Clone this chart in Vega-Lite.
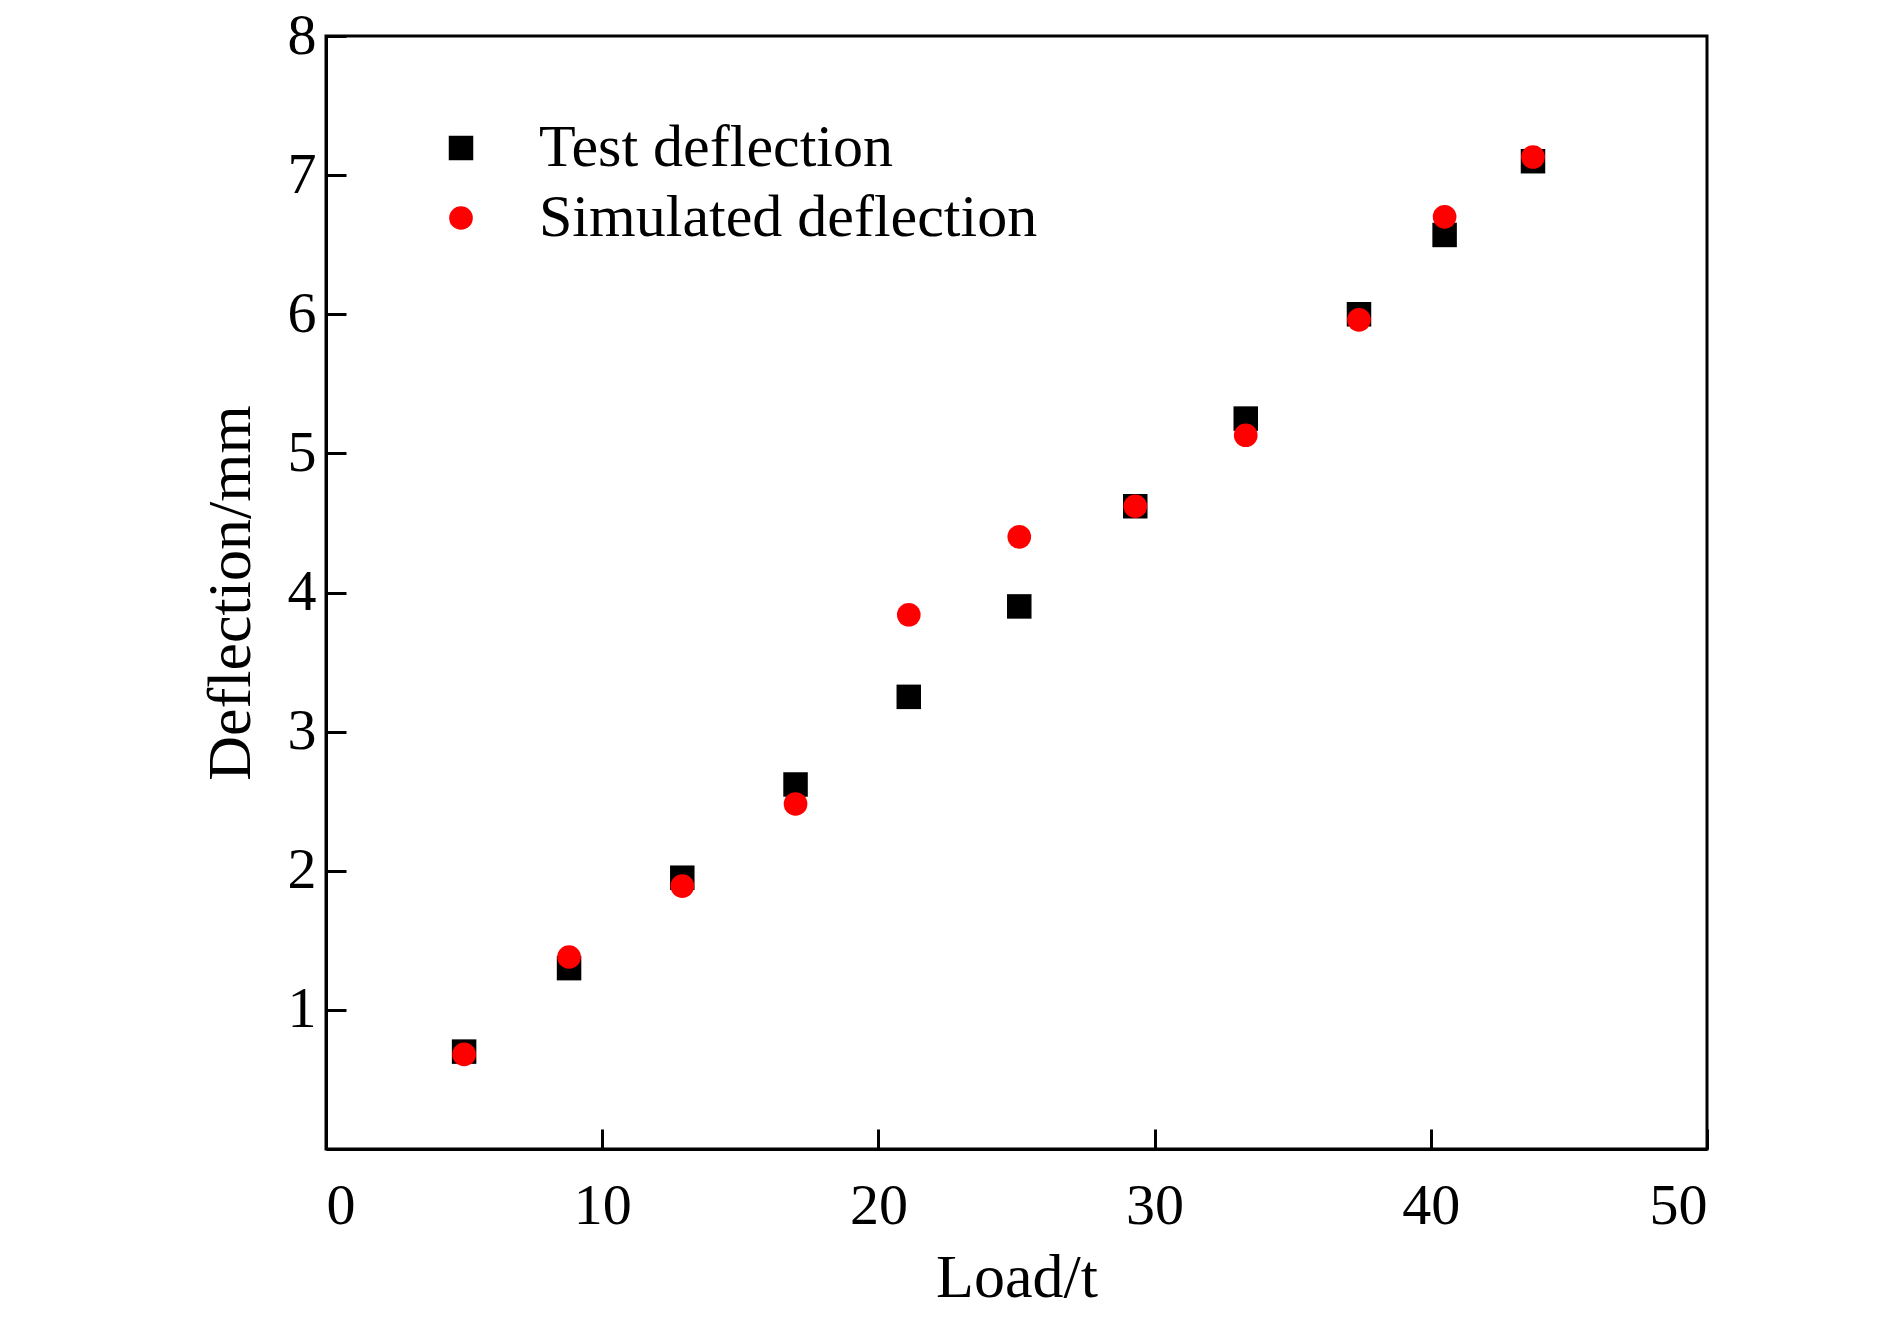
{
  "$schema": "https://vega.github.io/schema/vega-lite/v6.json",
  "width": 1381,
  "height": 1113,
  "padding": {"left": 326, "top": 36, "right": 183, "bottom": 190},
  "autosize": {"type": "none"},
  "background": "white",
  "data": {
    "values": [
      {"load": 5.0, "deflection": 0.70, "series": "Test deflection"},
      {"load": 8.8, "deflection": 1.30, "series": "Test deflection"},
      {"load": 12.9, "deflection": 1.95, "series": "Test deflection"},
      {"load": 17.0, "deflection": 2.62, "series": "Test deflection"},
      {"load": 21.1, "deflection": 3.25, "series": "Test deflection"},
      {"load": 25.1, "deflection": 3.90, "series": "Test deflection"},
      {"load": 29.3, "deflection": 4.62, "series": "Test deflection"},
      {"load": 33.3, "deflection": 5.25, "series": "Test deflection"},
      {"load": 37.4, "deflection": 6.00, "series": "Test deflection"},
      {"load": 40.5, "deflection": 6.57, "series": "Test deflection"},
      {"load": 43.7, "deflection": 7.10, "series": "Test deflection"},
      {"load": 5.0, "deflection": 0.68, "series": "Simulated deflection"},
      {"load": 8.8, "deflection": 1.38, "series": "Simulated deflection"},
      {"load": 12.9, "deflection": 1.89, "series": "Simulated deflection"},
      {"load": 17.0, "deflection": 2.48, "series": "Simulated deflection"},
      {"load": 21.1, "deflection": 3.84, "series": "Simulated deflection"},
      {"load": 25.1, "deflection": 4.40, "series": "Simulated deflection"},
      {"load": 29.3, "deflection": 4.62, "series": "Simulated deflection"},
      {"load": 33.3, "deflection": 5.13, "series": "Simulated deflection"},
      {"load": 37.4, "deflection": 5.96, "series": "Simulated deflection"},
      {"load": 40.5, "deflection": 6.70, "series": "Simulated deflection"},
      {"load": 43.7, "deflection": 7.13, "series": "Simulated deflection"}
    ]
  },
  "mark": {"type": "point", "filled": true, "opacity": 1},
  "encoding": {
    "x": {
      "field": "load", "type": "quantitative", "title": "Load/t",
      "scale": {"domain": [0, 50], "nice": false},
      "axis": {"values": [0, 10, 20, 30, 40, 50], "grid": false, "labelPadding": 48, "titlePadding": 12}
    },
    "y": {
      "field": "deflection", "type": "quantitative", "title": "Deflection/mm",
      "scale": {"domain": [0, 8], "nice": false},
      "axis": {"values": [1, 2, 3, 4, 5, 6, 7, 8], "grid": false, "labelPadding": 30, "titlePadding": 25}
    },
    "color": {
      "field": "series", "type": "nominal",
      "scale": {"domain": ["Test deflection", "Simulated deflection"], "range": ["black", "#ff0000"]},
      "legend": {"title": null, "orient": "none", "legendX": 105, "legendY": 82}
    },
    "shape": {
      "field": "series", "type": "nominal",
      "scale": {"domain": ["Test deflection", "Simulated deflection"], "range": ["square", "circle"]},
      "legend": {"title": null, "orient": "none", "legendX": 105, "legendY": 82}
    },
    "size": {
      "field": "series", "type": "nominal",
      "scale": {"domain": ["Test deflection", "Simulated deflection"], "range": [600, 560]},
      "legend": null
    },
    "order": {"field": "series", "sort": "descending"}
  },
  "config": {
    "font": "Liberation Serif",
    "view": {"stroke": "black", "strokeWidth": 3},
    "axis": {
      "domainColor": "black", "domainWidth": 3, "tickColor": "black", "tickWidth": 3,
      "tickSize": -20, "labelFontSize": 58, "labelColor": "black",
      "titleFontSize": 62, "titleFontWeight": "normal", "titleColor": "black"
    },
    "legend": {
      "labelFontSize": 60, "labelColor": "black", "symbolSize": 420, "symbolOpacity": 1,
      "rowPadding": 10, "labelOffset": 48, "labelLimit": 1000
    }
  }
}
